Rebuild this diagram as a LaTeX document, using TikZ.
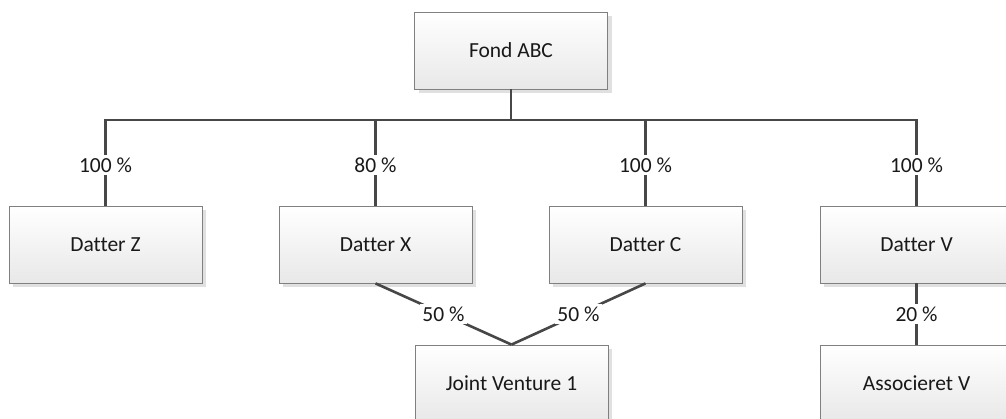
\documentclass[tikz,border=0pt]{standalone}
\usepackage{fontspec}
\setmainfont{Carlito}[Ligatures={NoCommon}]
\usetikzlibrary{shadows,calc}
\begin{document}
\begin{tikzpicture}[x=1pt,y=-1pt,
  box/.style={draw=black!50, line width=0.8pt, top color=white, bottom color=black!9,
    minimum width=193pt, minimum height=77pt, inner sep=0pt,
    font=\fontsize{21.5}{25}\selectfont, text=black!90,
    drop shadow={fill=black!12, opacity=1, shadow xshift=4pt, shadow yshift=-4pt}},
  conn/.style={draw=black!72, line width=2.6pt},
  lbl/.style={fill=white, draw=none, inner xsep=2.5pt, inner ysep=3pt, font=\fontsize{21.5}{25}\selectfont, text=black!90}]
\useasboundingbox (0,0) rectangle (1006,419);
\node[box] (fond) at (511,50.5) {Fond ABC};
\node[box] (z) at (105.5,244.5) {Datter Z};
\node[box] (x) at (375.5,244.5) {Datter X};
\node[box] (c) at (645.5,244.5) {Datter C};
\node[box] (v) at (916.5,244.5) {Datter V};
\node[box] (jv) at (511.5,383.5) {Joint Venture 1};
\node[box] (av) at (916.5,383.5) {Associeret V};
\coordinate (bus) at (511,120);
\draw[conn] (fond.south) -- (bus) -| (z.north);
\draw[conn] (bus) -| (x.north);
\draw[conn] (bus) -| (c.north);
\draw[conn] (bus) -| (v.north);
\draw[conn] (x.south) -- (jv.north);
\draw[conn] (c.south) -- (jv.north);
\draw[conn] (v.south) -- (av.north);
\node[lbl] (lz) at (z.north |- 0,165) {100 \%};
\node[lbl] (lx) at (x.north |- 0,165) {80 \%};
\node[lbl] (lc) at (c.north |- 0,165) {100 \%};
\node[lbl] (lv) at (v.north |- 0,165) {100 \%};
\node[lbl] (lxj) at ($(x.south)!0.5!(jv.north)$) {50 \%};
\node[lbl] (lcj) at ($(c.south)!0.5!(jv.north)$) {50 \%};
\node[lbl] (lva) at ($(v.south)!0.5!(av.north)$) {20 \%};
\end{tikzpicture}
\end{document}
